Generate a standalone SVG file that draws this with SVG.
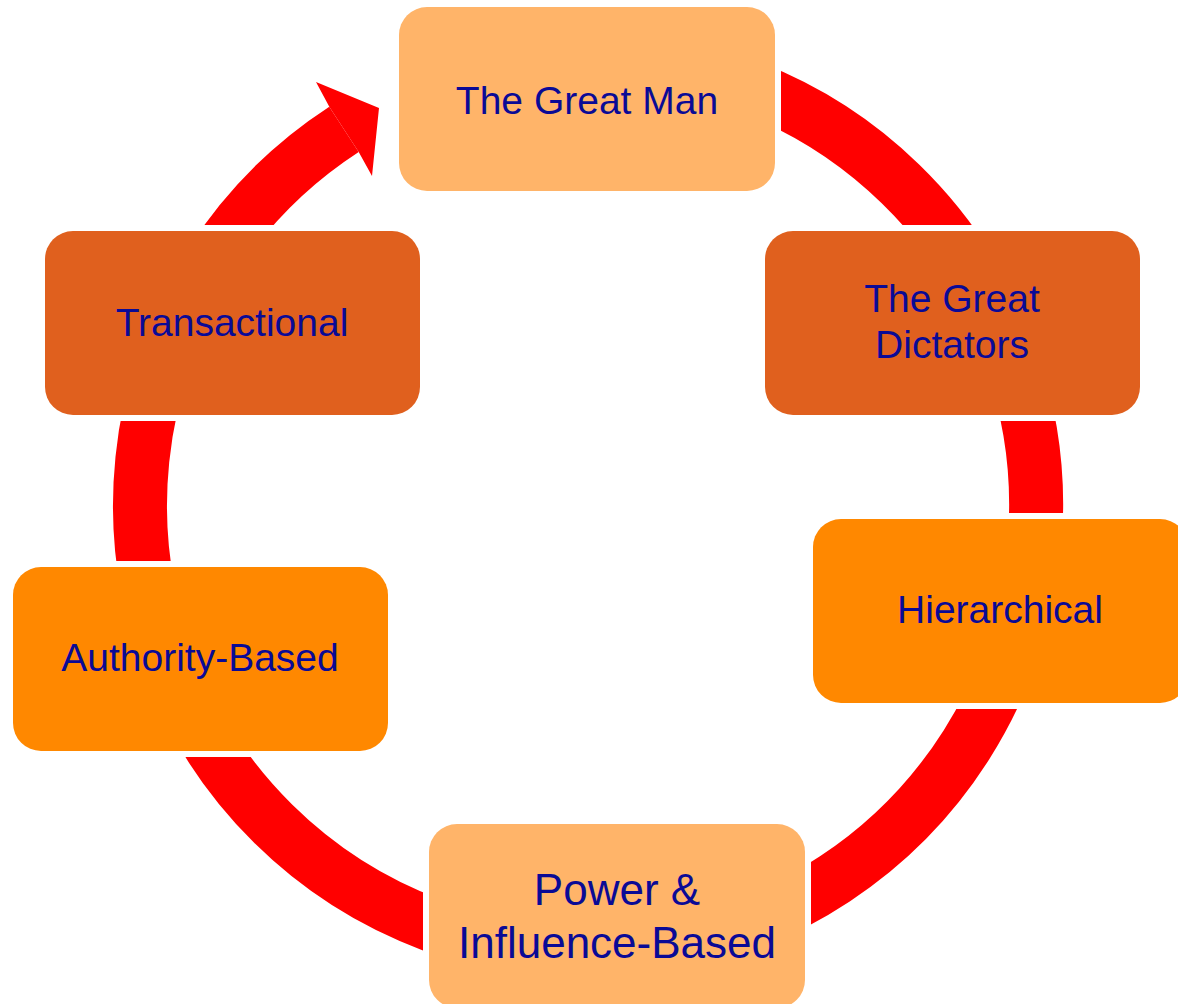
<svg xmlns="http://www.w3.org/2000/svg" width="1178" height="1004" viewBox="0 0 1178 1004">
<style>
.lbl{font-family:"Liberation Sans",Arial,sans-serif;font-size:39px;fill:#0A0A96;text-anchor:middle}
.big{font-size:44px}
.light{fill:#FFB469}
.dark{fill:#E0601E}
.mid{fill:#FF8800}
</style>
<defs>
<mask id="gaps" maskUnits="userSpaceOnUse" x="0" y="0" width="1178" height="1004">
<rect x="0" y="0" width="1178" height="1004" fill="#fff"/>
<rect x="393" y="1" width="388" height="196" fill="#000"/>
<rect x="759" y="225" width="387" height="196" fill="#000"/>
<rect x="807" y="513" width="387" height="196" fill="#000"/>
<rect x="423" y="818" width="388" height="196" fill="#000"/>
<rect x="7" y="561" width="387" height="196" fill="#000"/>
<rect x="39" y="225" width="387" height="196" fill="#000"/>
</mask>
</defs>
<rect width="1178" height="1004" fill="#fff"/>
<g id="connectors">
<path d="M 741.2 84.0 A 448 448 0 1 1 344.0 129.3" fill="none" stroke="#FF0000" stroke-width="54" mask="url(#gaps)"/>
<polygon points="329.3,106.7 316,82 379,108 372,176 358.7,151.9" fill="#FF0000"/>
</g>
<g id="node-great-man">
<rect class="light" x="399" y="7" width="376" height="184" rx="28"/>
<text class="lbl" x="587" y="114">The Great Man</text>
</g>
<g id="node-great-dictators">
<rect class="dark" x="765" y="231" width="375" height="184" rx="28"/>
<text class="lbl" x="952" y="312">The Great</text>
<text class="lbl" x="952" y="358">Dictators</text>
</g>
<g id="node-hierarchical">
<rect class="mid" x="813" y="519" width="375" height="184" rx="28"/>
<text class="lbl" x="1000" y="623">Hierarchical</text>
</g>
<g id="node-power">
<rect class="light" x="429" y="824" width="376" height="184" rx="28"/>
<text class="lbl big" x="617" y="905">Power &amp;</text>
<text class="lbl big" x="617" y="958">Influence-Based</text>
</g>
<g id="node-authority">
<rect class="mid" x="13" y="567" width="375" height="184" rx="28"/>
<text class="lbl" x="200" y="671">Authority-Based</text>
</g>
<g id="node-transactional">
<rect class="dark" x="45" y="231" width="375" height="184" rx="28"/>
<text class="lbl" x="232" y="336">Transactional</text>
</g>
</svg>
